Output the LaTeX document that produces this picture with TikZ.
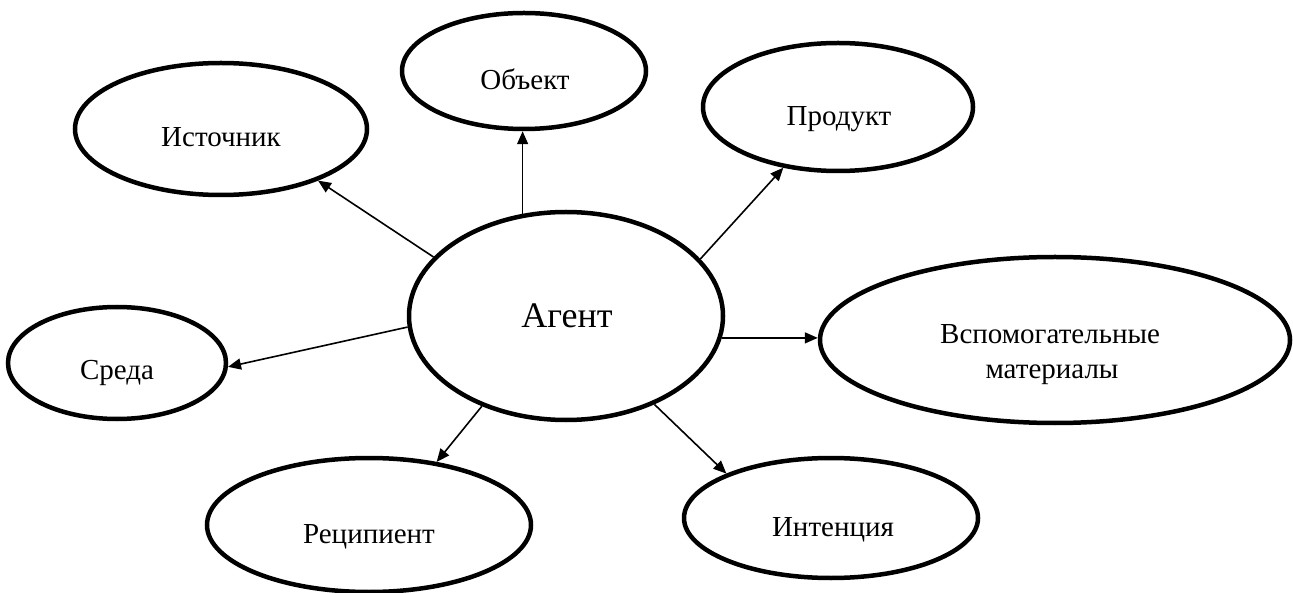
\documentclass[tikz,border=0pt]{standalone}
\usepackage{fontspec}
\setmainfont{Liberation Serif}
\usetikzlibrary{shapes.geometric,arrows.meta}
\tikzset{
  ell/.style={draw, ellipse, line width=4.5pt, inner sep=0pt, fill=white},
  lbl/.style={anchor=base, inner sep=0pt, font=\fontsize{29}{34}\selectfont},
  big/.style={anchor=base, inner sep=0pt, font=\fontsize{36}{42}\selectfont},
  arr/.style={-{Triangle[length=13pt,width=11pt]}, line width=1.6pt}
}
\begin{document}
\begin{tikzpicture}[x=1pt,y=-1pt]
\useasboundingbox (0,0) rectangle (1293,593);
\node[ell, minimum width=314pt, minimum height=208pt] (ag) at (566,316) {};
\node[ell, minimum width=244pt, minimum height=116pt] (obj) at (524,71) {};
\node[ell, minimum width=292pt, minimum height=132pt] (ist) at (221,129) {};
\node[ell, minimum width=270pt, minimum height=128pt] (prod) at (838,107) {};
\node[ell, minimum width=218pt, minimum height=112pt] (sr) at (117,363) {};
\node[ell, minimum width=324pt, minimum height=134pt] (rec) at (369,525) {};
\node[ell, minimum width=470pt, minimum height=166pt] (vsp) at (1055,340) {};
\node[ell, minimum width=294pt, minimum height=120pt] (int) at (831,518) {};

\node[big] (tag) at (567,328) {Агент};
\node[lbl] (tobj) at (525,90) {Объект};
\node[lbl] (tist) at (221,147) {Источник};
\node[lbl] (tprod) at (839,126) {Продукт};
\node[lbl] (tsr) at (117,380) {Среда};
\node[lbl] (trec) at (369,543) {Реципиент};
\node[lbl] (tint) at (833,536) {Интенция};
\node[lbl] (tvsp1) at (1050,344) {Вспомогательные};
\node[lbl] (tvsp2) at (1052,378) {материалы};

\draw[arr] (ag.113) -- (ag.113 |- obj.south);
\draw[arr] (ag.156) -- (ist.-28);
\draw[arr] (ag.23) -- (prod.228);
\draw[arr] (ag.184) -- (sr.-2);
\draw[arr] (ag.227) -- (rec.43);
\draw[arr] (ag.-8) -- (ag.-8 -| vsp.west);
\draw[arr] (ag.-45) -- (int.157);
\end{tikzpicture}
\end{document}
